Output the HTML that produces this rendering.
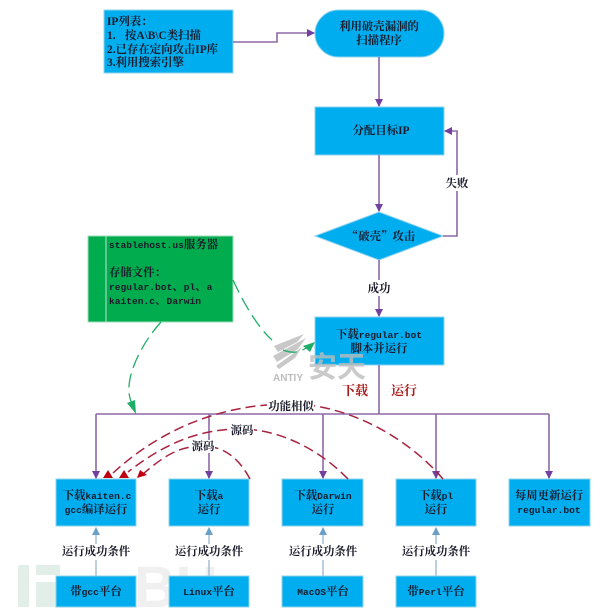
<!DOCTYPE html>
<html>
<head>
<meta charset="utf-8">
<style>
html,body{margin:0;padding:0;background:#fff;width:602px;height:614px;overflow:hidden}
svg{display:block;filter:blur(.35px)}
text{font-family:"Liberation Serif","Noto Serif CJK SC",serif;font-weight:bold;font-size:11.4px;fill:#1a1a2a}
.c{text-anchor:middle}
.m{font-family:"Liberation Mono","Noto Serif CJK SC",monospace;font-size:9.6px}
.q{font-family:"Noto Serif CJK SC",serif}
.b{fill:#00adef;stroke:#8fd3ee;stroke-width:1}
.p{fill:none;stroke:#8e68a8;stroke-width:1.6}
.r{fill:none;stroke:#a8233f;stroke-width:1.5;stroke-dasharray:10 5}
.g{fill:none;stroke:#1fae68;stroke-width:1.3;stroke-dasharray:14 6}
.u{stroke:#a3bfd4;stroke-width:1.5}
.l{fill:#fff;stroke:none}
</style>
</head>
<body>
<svg width="602" height="614" viewBox="0 0 602 614" xmlns="http://www.w3.org/2000/svg">
<defs>
<marker id="pa" markerWidth="8" markerHeight="8" refX="7" refY="4" orient="auto" markerUnits="userSpaceOnUse"><path d="M0 0L8 4L0 8Z" fill="#7340a0"/></marker>
</defs>

<!-- watermark FREEBUF -->
<g fill="#e2efe8">
<rect x="18" y="565" width="11" height="42"/>
<rect x="36" y="565" width="24" height="10"/>
<rect x="36" y="582" width="20" height="25"/>
</g>
<text x="134" y="607" style="font-family:'Liberation Sans',sans-serif;font-size:58px;fill:#f0f0f0">BU</text>

<!-- ANTIY watermark -->
<g fill="#c8c8c8">
<path d="M274 346L304 334L297 342L278 352Z"/>
<path d="M273 356L306 338L298 349L277 362Z"/>
<path d="M276 366L302 347L295 358L279 369Z"/>
</g>
<text x="273" y="381" style="font-family:'Liberation Sans',sans-serif;font-size:10px;fill:#bdbdbd">ANTIY</text>

<!-- boxes top -->
<rect class="b" x="104" y="10" width="129" height="63"/>
<rect class="b" x="315" y="10" width="129" height="47" rx="23.5"/>
<rect class="b" x="315" y="107" width="129" height="48"/>
<path class="b" d="M315 236L379 212L443 236L379 260Z"/>
<rect x="88" y="236" width="145" height="86" fill="#00ac4e" stroke="#9fdcbc"/>
<line x1="106" y1="236" x2="106" y2="322" stroke="#9fdcbc" stroke-width="1.2"/>
<rect class="b" x="315" y="317" width="129" height="48"/>

<!-- bottom row boxes -->
<rect class="b" x="56" y="479" width="80" height="47"/>
<rect class="b" x="169" y="479" width="80" height="47"/>
<rect class="b" x="282" y="479" width="81" height="47"/>
<rect class="b" x="396" y="479" width="80" height="47"/>
<rect class="b" x="509" y="479" width="81" height="47"/>
<rect class="b" x="56" y="576" width="80" height="31"/>
<rect class="b" x="169" y="576" width="80" height="31"/>
<rect class="b" x="282" y="576" width="81" height="31"/>
<rect class="b" x="396" y="576" width="80" height="31"/>

<!-- purple connectors -->
<path class="p" d="M233 42H277V33H314" marker-end="url(#pa)"/>
<path class="p" d="M379 57V106" marker-end="url(#pa)"/>
<path class="p" d="M379 155V211" marker-end="url(#pa)"/>
<path class="p" d="M443 236H457V131H445" marker-end="url(#pa)"/>
<path class="p" d="M379 260V316" marker-end="url(#pa)"/>
<path class="p" d="M379 365V414"/>
<path class="p" d="M96 414H549"/>
<path class="p" d="M96 414V478" marker-end="url(#pa)"/>
<path class="p" d="M209 414V478" marker-end="url(#pa)"/>
<path class="p" d="M323 414V478" marker-end="url(#pa)"/>
<path class="p" d="M436 414V478" marker-end="url(#pa)"/>
<path class="p" d="M549 414V478" marker-end="url(#pa)"/>

<!-- up arrows -->
<g>
<line class="u" x1="96" y1="576" x2="96" y2="533"/><path d="M92 535L96 527L100 535Z" fill="#6a9fc8"/>
<line class="u" x1="209" y1="576" x2="209" y2="533"/><path d="M205 535L209 527L213 535Z" fill="#6a9fc8"/>
<line class="u" x1="323" y1="576" x2="323" y2="533"/><path d="M319 535L323 527L327 535Z" fill="#6a9fc8"/>
<line class="u" x1="436" y1="576" x2="436" y2="533"/><path d="M432 535L436 527L440 535Z" fill="#6a9fc8"/>
</g>

<!-- red dashed curves -->
<path class="r" d="M443 479C410 440 350 404 290 404C220 404 160 430 113 473"/>
<path class="r" d="M348 479C320 450 280 429 240 429C195 429 160 447 128 472"/>
<path class="r" d="M250 479C240 460 225 446 203 446C180 446 165 455 143 474"/>
<path d="M103 478L108 470L113 478Z" fill="#c00010"/>
<path d="M119 478L124 470L129 478Z" fill="#c00010"/>
<path d="M137 478L140 470L147 475Z" fill="#c00010"/>

<!-- green dashed -->
<path class="g" d="M233 280C243 302 258 328 272 340"/>
<path class="g" d="M283 350C293 354 300 352 306 348"/>
<path d="M303 346L315 342L310 352Z" fill="#1fae68"/>
<path class="g" d="M161 322C140 345 120 385 133 405"/>
<path d="M127 403L135 400L136 414Z" fill="#1fae68"/>

<!-- label backgrounds -->
<rect class="l" x="443" y="175" width="28" height="16"/>
<rect class="l" x="364" y="280" width="30" height="16"/>
<rect class="l" x="267" y="399" width="47" height="14"/>
<rect class="l" x="230" y="423" width="24" height="14"/>
<rect class="l" x="191" y="440" width="24" height="13"/>
<rect class="l" x="60" y="544" width="72" height="16"/>
<rect class="l" x="173" y="544" width="72" height="16"/>
<rect class="l" x="287" y="544" width="72" height="16"/>
<rect class="l" x="400" y="544" width="72" height="16"/>

<!-- text -->
<text x="107" y="25">IP列表：</text>
<text x="107" y="39">1.<tspan x="125">按A\B\C类扫描</tspan></text>
<text x="107" y="53">2.已存在定向攻击IP库</text>
<text x="107" y="66">3.利用搜索引擎</text>
<text class="c" x="379" y="30">利用破壳漏洞的</text>
<text class="c" x="379" y="44">扫描程序</text>
<text class="c" x="381" y="134">分配目标IP</text>
<text class="c" x="457" y="187">失败</text>
<text class="c" x="381" y="240"><tspan class="q">“</tspan>破壳<tspan class="q">”</tspan>攻击</text>
<text class="c" x="379" y="292">成功</text>
<text x="109" y="248"><tspan class="m">stablehost.us</tspan>服务器</text>
<text x="109" y="276">存储文件：</text>
<text x="109" y="290"><tspan class="m">regular.bot</tspan>、<tspan class="m">pl</tspan>、<tspan class="m">a</tspan></text>
<text x="109" y="304"><tspan class="m">kaiten.c</tspan>、<tspan class="m">Darwin</tspan></text>
<text class="c" x="379" y="338">下载<tspan class="m">regular.bot</tspan></text>
<text class="c" x="379" y="352">脚本并运行</text>
<text x="342" y="395" style="font-size:13px;fill:#a81818">下载</text>
<text x="391" y="395" style="font-size:13px;fill:#a81818">运行</text>
<text class="c" x="291" y="410">功能相似</text>
<text class="c" x="242" y="434">源码</text>
<text class="c" x="203" y="450">源码</text>
<text class="c" x="97" y="499">下载<tspan class="m">kaiten.c</tspan></text>
<text class="c" x="96" y="513"><tspan class="m">gcc</tspan>编译运行</text>
<text class="c" x="209" y="499">下载<tspan class="m">a</tspan></text>
<text class="c" x="209" y="513">运行</text>
<text class="c" x="323" y="499">下载<tspan class="m">Darwin</tspan></text>
<text class="c" x="323" y="513">运行</text>
<text class="c" x="436" y="499">下载<tspan class="m">pl</tspan></text>
<text class="c" x="436" y="513">运行</text>
<text class="c" x="549" y="499">每周更新运行</text>
<text class="c m" x="549" y="513">regular.bot</text>
<text class="c" x="96" y="555">运行成功条件</text>
<text class="c" x="209" y="555">运行成功条件</text>
<text class="c" x="323" y="555">运行成功条件</text>
<text class="c" x="436" y="555">运行成功条件</text>
<text class="c" x="96" y="595">带<tspan class="m">gcc</tspan>平台</text>
<text class="c" x="209" y="595"><tspan class="m">Linux</tspan>平台</text>
<text class="c" x="323" y="595"><tspan class="m">MacOS</tspan>平台</text>
<text class="c" x="436" y="595">带<tspan class="m">Perl</tspan>平台</text>

<!-- 安天 watermark overlays box -->
<text x="308" y="377" style="font-family:'Noto Sans CJK SC',sans-serif;font-size:29px;font-weight:bold;fill:#bdbdbd" opacity=".8">安</text>
<text x="337" y="377" style="font-family:'Noto Sans CJK SC',sans-serif;font-size:29px;font-weight:bold;fill:#bdbdbd" opacity=".8">天</text>
</svg>
</body>
</html>
